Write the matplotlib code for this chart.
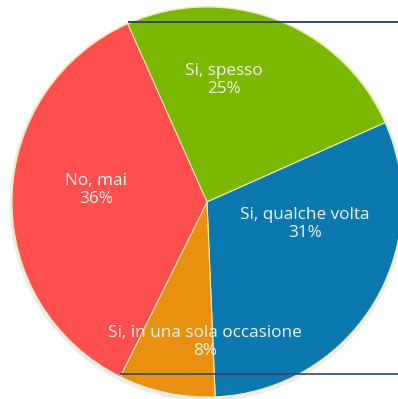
import matplotlib
matplotlib.use("Agg")
import matplotlib.pyplot as plt

# dati
labels = ["Si, spesso", "Si, qualche volta", "Si, in una sola occasione", "No, mai"]
values = [25, 31, 8, 36]
colors = ["#7bb800", "#0b79b0", "#e8900f", "#ff4f4f"]
# posizioni delle etichette (pixel, origine in alto a sinistra)
label_pos = [(224, 80), (305, 224), (205, 342), (96, 190)]

W, H = 398, 399
fig = plt.figure(figsize=(W / 100, H / 100), dpi=100)
ax = fig.add_axes([0, 0, 1, 1])

cx, cy, r = 207, H - 202, 195

# ombra leggera
ax.pie([1], colors=["#ececec"], radius=r + 2.5, center=(cx, cy - 1.5),
       wedgeprops=dict(linewidth=0), frame=True)
ax.pie(values, colors=colors, radius=r, center=(cx, cy), startangle=114,
       counterclock=False, wedgeprops=dict(edgecolor="#f5e9b0", linewidth=0.8),
       frame=True)
ax.set_xlim(0, W)
ax.set_ylim(0, H)
ax.set_aspect("equal")
ax.axis("off")

# linee decorative (bordo casella)
ax.plot([128, W], [H - 22, H - 22], color="#34476e", lw=1.4, solid_capstyle="butt")
ax.plot([120, W], [H - 374, H - 374], color="#34476e", lw=1.2, solid_capstyle="butt")

for lab, v, (x, y) in zip(labels, values, label_pos):
    ax.text(x, H - y, f"{lab}\n{v}%", ha="center", va="center", color="#f4f4ea",
            fontsize=12.3, family="Open Sans", linespacing=1.15)

fig.savefig("out.png", dpi=100)
